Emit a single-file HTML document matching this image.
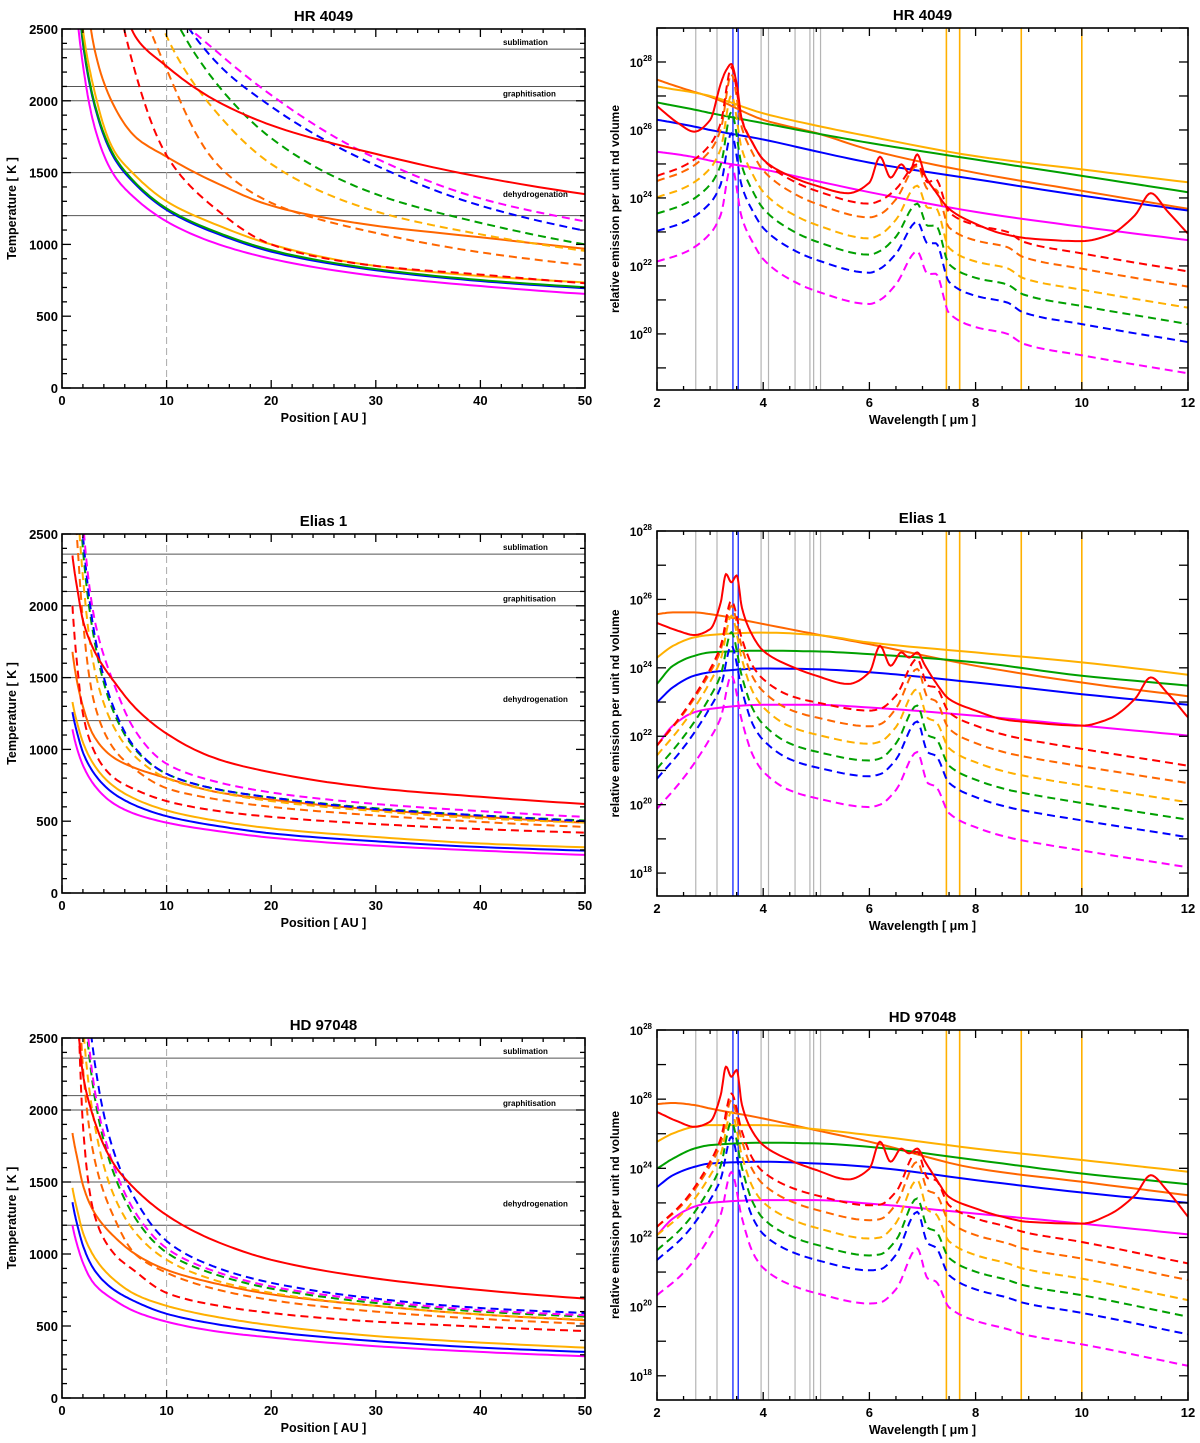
<!DOCTYPE html>
<html><head><meta charset="utf-8"><style>
html,body{margin:0;padding:0;background:#fff}
svg{display:block}
text{font-family:"Liberation Sans",sans-serif;font-weight:bold;fill:#000}
</style></head><body>
<svg id="fig" width="1200" height="1443" viewBox="0 0 1200 1443" xmlns="http://www.w3.org/2000/svg"></svg>
<script>
// ---------- Left panels: temperature vs position ----------
const PX=[1,1.5,2,3,5,7,10,15,20,30,40,50];
// HR 4049
const hr_mag_s=[3000,2550,2250,1850,1480,1320,1160,1000,900,780,710,655];
const hr_blu_s=[3200,2750,2400,2000,1600,1420,1240,1070,950,820,745,695];
const hr_grn_s=[3220,2770,2420,2015,1615,1430,1250,1080,960,828,752,702];
const hr_yel_s=[3400,2900,2500,2100,1650,1480,1300,1130,1000,850,780,735];
const hr_org_s=[4000,3400,3000,2400,1960,1750,1610,1420,1270,1130,1050,970];
const hr_red_s=[6000,5000,4400,3600,2900,2450,2240,1990,1830,1630,1470,1350];
const hr_red_d=[9000,7000,5800,4300,2850,2200,1620,1230,1000,850,790,730];
const hr_org_d=[12000,9000,7000,5000,3500,2800,2220,1545,1290,1080,945,855];
const hr_yel_d=[14000,10000,8000,5500,3900,3100,2450,1900,1560,1230,1070,955];
const hr_grn_d=[16000,12000,9000,6500,4300,3400,2700,2100,1740,1350,1150,1000];
const hr_blu_d=[18000,13000,10000,7000,5000,3700,2800,2250,1960,1550,1270,1095];
const hr_mag_d=[19000,14000,10500,7200,4800,3400,2700,2330,2040,1600,1320,1160];
// Elias 1
const el_mag_s=[1140,990,890,760,620,550,490,430,385,330,295,265];
const el_blu_s=[1260,1100,980,840,690,610,535,465,415,360,320,295];
const el_yel_s=[1330,1170,1050,900,740,655,575,500,450,390,345,318];
const el_org_s=[1680,1450,1300,1100,940,870,800,700,650,580,530,490];
const el_red_s=[2350,2100,1900,1700,1470,1290,1110,930,840,730,670,620];
const el_red_d=[2000,1550,1250,1000,800,720,640,570,530,480,445,420];
const el_org_d=[3000,2400,1900,1350,1000,860,730,650,600,540,495,460];
const el_yel_d=[3500,2700,2200,1600,1150,950,800,700,640,570,520,490];
const el_grn_d=[4000,3000,2400,1800,1250,1000,830,720,665,590,540,505];
const el_blu_d=[4200,3100,2500,1850,1280,1010,830,720,665,585,540,500];
const el_mag_d=[4500,3300,2600,1950,1450,1130,900,770,700,620,570,530];
// HD 97048
const hd_mag_s=[1200,1050,940,800,680,600,530,460,420,360,320,290];
const hd_blu_s=[1360,1190,1060,900,750,670,585,510,460,395,350,320];
const hd_yel_s=[1460,1290,1150,990,820,720,640,560,505,430,385,350];
const hd_org_s=[1840,1650,1480,1300,1120,1000,890,790,720,640,580,540];
const hd_red_s=[3000,2600,2250,1950,1620,1450,1270,1080,960,830,750,690];
const hd_red_d=[3800,2800,1900,1300,1000,880,730,640,590,530,495,465];
const hd_org_d=[4000,3000,2300,1700,1250,1000,870,750,680,600,550,515];
const hd_yel_d=[4500,3300,2600,1950,1400,1150,960,810,730,640,580,545];
const hd_grn_d=[5000,3700,2900,2150,1550,1250,1010,850,760,660,600,565];
const hd_mag_d=[5200,3800,3000,2200,1600,1290,1040,870,775,675,610,575];
const hd_blu_d=[5500,4000,3200,2400,1700,1380,1090,900,800,690,625,590];

// ---------- Right panels: log10 emission vs wavelength ----------
const SX=[2,2.3,2.7,3,4,5,6,8,10,12];
const GX=[2,2.5,3,3.2,3.4,3.6,3.8,4,4.5,5,6,6.2,6.5,6.9,7.1,7.25,7.5,8,8.6,8.9,10,12];
const RX=[2,2.4,2.7,3,3.2,3.3,3.4,3.5,3.6,3.8,4,4.5,5,5.6,6,6.2,6.4,6.6,6.75,6.9,7.05,7.25,7.5,8,8.5,9,10,10.5,11,11.3,11.6,12];
// HR 4049
const hrS_org=[27.48,27.32,27.12,26.98,26.30,25.91,25.42,24.74,24.21,23.68];
const hrS_yel=[27.28,27.2,27.1,27.0,26.49,26.13,25.81,25.23,24.84,24.46];
const hrS_grn=[26.81,26.72,26.6,26.5,26.2,25.9,25.62,25.13,24.65,24.17];
const hrS_blu=[26.3,26.22,26.1,26.0,25.72,25.37,25.04,24.55,24.07,23.63];
const hrS_mag=[25.36,25.3,25.2,25.1,24.84,24.5,24.17,23.59,23.15,22.76];
const hrD_red=[24.65,24.94,25.57,26.2,27.84,26.3,25.62,25.13,24.55,24.21,23.83,23.92,24.26,24.99,24.46,24.55,23.58,23.2,23.0,22.71,22.37,21.84];
const hrD_org=[24.50,24.78,25.39,26.01,27.64,26.05,25.32,24.81,24.20,23.83,23.43,23.52,23.96,24.94,24.26,24.25,23.13,22.75,22.55,22.26,21.92,21.39];
const hrD_yel=[24.02,24.29,24.87,25.45,27.02,25.42,24.70,24.18,23.57,23.21,22.81,22.92,23.36,24.36,23.71,23.70,22.53,22.13,21.93,21.64,21.30,20.77];
const hrD_grn=[23.54,23.81,24.39,24.97,26.53,24.93,24.21,23.69,23.08,22.72,22.33,22.44,22.86,23.83,23.18,23.19,22.05,21.65,21.45,21.16,20.82,20.29];
const hrD_blu=[23.03,23.28,23.85,24.40,25.90,24.33,23.62,23.12,22.53,22.18,21.80,21.92,22.36,23.30,22.66,22.67,21.53,21.12,20.92,20.63,20.29,19.76];
const hrD_mag=[22.13,22.38,22.95,23.50,24.98,23.40,22.70,22.20,21.61,21.26,20.88,21.00,21.46,22.43,21.76,21.77,20.61,20.20,20.00,19.71,19.37,18.84];
const hrR_red=[26.70,26.20,25.95,26.29,27.36,27.75,27.94,27.36,26.29,25.62,25.13,24.65,24.36,24.14,24.45,25.21,24.60,24.99,24.74,25.28,24.65,24.18,23.68,23.24,22.95,22.81,22.73,22.90,23.49,24.14,23.63,22.95];
// Elias 1
const elS_org=[25.57,25.62,25.62,25.57,25.28,24.98,24.69,24.06,23.57,23.17];
const elS_yel=[24.30,24.64,24.89,24.96,25.03,24.96,24.74,24.45,24.16,23.80];
const elS_grn=[23.53,24.06,24.35,24.45,24.50,24.48,24.40,24.16,23.77,23.48];
const elS_blu=[22.99,23.43,23.77,23.87,23.98,23.96,23.87,23.57,23.23,22.92];
const elS_mag=[21.73,22.31,22.70,22.80,22.92,22.92,22.84,22.60,22.31,22.02];
const elD_red=[21.73,22.70,23.96,24.64,25.96,24.84,24.06,23.67,23.19,22.99,22.75,22.80,23.19,24.26,23.48,23.43,22.70,22.31,22.02,21.92,21.63,21.14];
const elD_org=[21.73,22.66,23.87,24.52,25.81,24.59,23.74,23.31,22.78,22.55,22.29,22.35,22.81,23.97,23.13,23.03,22.22,21.80,21.51,21.41,21.12,20.63];
const elD_yel=[21.44,22.38,23.59,24.24,25.52,24.24,23.31,22.85,22.29,22.05,21.78,21.84,22.27,23.38,22.53,22.43,21.65,21.24,20.95,20.85,20.56,20.07];
const elD_grn=[21.05,21.98,23.16,23.79,25.04,23.74,22.81,22.35,21.79,21.55,21.29,21.35,21.79,22.90,22.03,21.93,21.14,20.73,20.44,20.34,20.05,19.56];
const elD_blu=[20.76,21.67,22.84,23.44,24.65,23.34,22.36,21.89,21.33,21.09,20.83,20.89,21.32,22.43,21.53,21.43,20.64,20.22,19.93,19.83,19.54,19.05];
const elD_mag=[19.88,20.78,21.94,22.54,23.77,22.44,21.46,20.97,20.42,20.19,19.93,20.00,20.43,21.54,20.63,20.53,19.75,19.34,19.05,18.95,18.66,18.17];
const elR_red=[25.31,25.08,24.96,25.13,25.91,26.74,26.50,26.70,25.75,24.94,24.50,24.06,23.77,23.53,23.87,24.64,24.06,24.45,24.30,24.45,24.06,23.57,23.09,22.75,22.50,22.41,22.31,22.50,23.09,23.72,23.28,22.55];
// HD 97048
const hdS_org=[25.86,25.89,25.83,25.73,25.44,25.10,24.77,24.00,23.61,23.22];
const hdS_yel=[24.77,25.01,25.20,25.25,25.25,25.13,24.96,24.57,24.24,23.90];
const hdS_grn=[23.99,24.28,24.57,24.67,24.74,24.72,24.62,24.24,23.85,23.54];
const hdS_blu=[23.46,23.80,24.04,24.14,24.19,24.14,24.04,23.66,23.30,23.00];
const hdS_mag=[22.07,22.55,22.89,23.00,23.08,23.08,22.98,22.69,22.40,22.09];
const hdD_red=[22.31,23.03,24.19,24.86,26.16,25.06,24.28,23.90,23.46,23.22,22.93,22.95,23.32,24.48,23.71,23.66,22.93,22.55,22.31,22.16,21.87,21.25];
const hdD_org=[22.31,22.98,24.08,24.71,25.97,24.79,23.95,23.54,23.06,22.80,22.50,22.53,22.96,24.19,23.36,23.26,22.47,22.07,21.83,21.68,21.39,20.77];
const hdD_yel=[22.07,22.73,23.79,24.40,25.63,24.36,23.46,23.02,22.54,22.28,21.97,22.00,22.42,23.66,22.79,22.68,21.89,21.49,21.25,21.10,20.81,20.19];
const hdD_grn=[21.63,22.33,23.44,24.08,25.34,24.01,23.03,22.55,22.05,21.79,21.48,21.51,21.92,23.13,22.28,22.18,21.41,21.01,20.77,20.62,20.33,19.71];
const hdD_blu=[21.35,22.03,23.09,23.69,24.91,23.56,22.58,22.10,21.61,21.35,21.05,21.08,21.50,22.74,21.83,21.71,20.91,20.50,20.26,20.11,19.82,19.20];
const hdD_mag=[20.33,20.98,22.04,22.66,23.89,22.56,21.58,21.12,20.64,20.39,20.09,20.12,20.50,21.68,20.81,20.73,19.98,19.59,19.35,19.20,18.91,18.29];
const hdR_red=[25.63,25.35,25.20,25.35,26.12,26.94,26.65,26.84,25.83,25.06,24.67,24.24,23.95,23.68,23.99,24.77,24.19,24.57,24.43,24.57,24.19,23.71,23.17,22.84,22.60,22.45,22.40,22.65,23.22,23.80,23.37,22.60];

// reference lines
const tempLines=[2360,2100,2000,1500,1200];
const grayLines=[2.73,3.13,3.96,4.10,4.60,4.88,4.95,5.08];
const blueLines=[3.43,3.53];
const goldLines=[7.45,7.70,8.86,10.0];

const C={red:'#ff0000',org:'#ff6600',yel:'#ffb000',grn:'#00a000',blu:'#0000ff',mag:'#ff00ff'};
const NS='http://www.w3.org/2000/svg';
const svg=document.getElementById('fig');
function mk(tag,attrs,parent){const e=document.createElementNS(NS,tag);for(const k in attrs)e.setAttribute(k,attrs[k]);(parent||svg).appendChild(e);return e;}

function mono(xs,ys,n){
  const m=xs.length,d=[],h=[],t=new Array(m);
  for(let i=0;i<m-1;i++){h[i]=xs[i+1]-xs[i];d[i]=(ys[i+1]-ys[i])/h[i];}
  t[0]=d[0];t[m-1]=d[m-2];
  for(let i=1;i<m-1;i++){
    if(d[i-1]*d[i]<=0)t[i]=0;else{const w1=2*h[i]+h[i-1],w2=h[i]+2*h[i-1];t[i]=(w1+w2)/(w1/d[i-1]+w2/d[i]);}
  }
  const out=[];
  for(let i=0;i<m-1;i++){
    for(let k=0;k<n;k++){
      const s=k/n,s2=s*s,s3=s2*s;
      const y=(2*s3-3*s2+1)*ys[i]+(s3-2*s2+s)*h[i]*t[i]+(-2*s3+3*s2)*ys[i+1]+(s3-s2)*h[i]*t[i+1];
      out.push([xs[i]+s*h[i],y]);
    }
  }
  out.push([xs[m-1],ys[m-1]]);
  return out;
}

let clipId=0;
function frame(g,x0,x1,y0,y1){mk('rect',{x:x0,y:y0,width:x1-x0,height:y1-y0,fill:'none',stroke:'#000','stroke-width':1.6},g);}

// ---- left panel ----
function leftPanel(name,title,y0,y1,series){
  const x0=62,x1=585;
  const g=mk('g',{});
  
  
  const X=r=>x0+r/50*(x1-x0), Y=T=>y1-T/2500*(y1-y0);
  const id='c'+(clipId++);
  const cp=mk('clipPath',{id:id},g);mk('rect',{x:x0,y:y0,width:x1-x0,height:y1-y0},cp);
  const t=mk('text',{x:(x0+x1)/2,y:y0-8,'text-anchor':'middle','font-size':15},g);t.textContent=title;
  
  tempLines.forEach(v=>{const l=mk('line',{x1:x0,x2:x1,y1:Y(v),y2:Y(v),stroke:'#555','stroke-width':1},g);
    });
  const labs=[['sublimation',Y(2360)-4],['graphitisation',Y(2050)+3],['dehydrogenation',Y(1350)+3]];
  labs.forEach(([s,y])=>{const e=mk('text',{x:503,y:y,'font-size':8,'font-weight':'normal'},g);e.textContent=s;
    });
  const vl=mk('line',{x1:X(10),x2:X(10),y1:y0,y2:y1,stroke:'#aaa','stroke-width':1,'stroke-dasharray':'7 4'},g);
  
  const cg=mk('g',{'clip-path':'url(#'+id+')'},g);
  series.forEach(s=>{
    const pts=mono(PX.map(Math.log),s.v.map(Math.log),12);
    const d=pts.map((p,i)=>(i?'L':'M')+X(Math.exp(p[0])).toFixed(1)+','+Y(Math.exp(p[1])).toFixed(1)).join('');
    const a={d:d,fill:'none',stroke:C[s.c],'stroke-width':2};
    if(s.dash)a['stroke-dasharray']='8 5';
    const p=mk('path',a,cg);
    
  });
  for(let v=0;v<=50;v+=2){const L=v%10===0?8:4;
    mk('line',{x1:X(v),x2:X(v),y1:y1,y2:y1-L,stroke:'#000','stroke-width':1.3},g);
    mk('line',{x1:X(v),x2:X(v),y1:y0,y2:y0+L,stroke:'#000','stroke-width':1.3},g);
    if(v%10===0){const e=mk('text',{x:X(v),y:y1+17,'text-anchor':'middle','font-size':13},g);e.textContent=v;
      }}
  for(let v=0;v<=2500;v+=100){const L=v%500===0?9:5;
    mk('line',{x1:x0,x2:x0+L,y1:Y(v),y2:Y(v),stroke:'#000','stroke-width':1.3},g);
    mk('line',{x1:x1,x2:x1-L,y1:Y(v),y2:Y(v),stroke:'#000','stroke-width':1.3},g);
    if(v%500===0){const e=mk('text',{x:x0-4,y:Y(v)+5,'text-anchor':'end','font-size':13},g);e.textContent=v;
      }}
  frame(g,x0,x1,y0,y1);
  const xt=mk('text',{x:(x0+x1)/2,y:y1+34,'text-anchor':'middle','font-size':12.5},g);xt.textContent='Position [ AU ]';
  
  const yt=mk('text',{x:0,y:0,'text-anchor':'middle','font-size':12.5,transform:'translate(16,'+((y0+y1)/2)+') rotate(-90)'},g);yt.textContent='Temperature [ K ]';
  
}

// ---- right panel ----
function rightPanel(name,title,y0,y1,lTop,lBot,labs,sol,das,red){
  const x0=657,x1=1188;
  const g=mk('g',{});
  
  
  const X=l=>x0+(l-2)/10*(x1-x0), Y=v=>y0+(lTop-v)/(lTop-lBot)*(y1-y0);
  const id='c'+(clipId++);
  const cp=mk('clipPath',{id:id},g);mk('rect',{x:x0,y:y0,width:x1-x0,height:y1-y0},cp);
  const t=mk('text',{x:(x0+x1)/2,y:y0-8,'text-anchor':'middle','font-size':15},g);t.textContent=title;
  
  const vline=(l,col,w,nm)=>{const e=mk('line',{x1:X(l),x2:X(l),y1:y0,y2:y1,stroke:col,'stroke-width':w},g);
    };
  grayLines.forEach(l=>vline(l,'#b4b4b4',1.2,'gray-band-line'));
  blueLines.forEach(l=>vline(l,'#2233ff',1.4,'blue-band-line'));
  goldLines.forEach(l=>vline(l,'#ffb000',1.6,'gold-band-line'));
  const cg=mk('g',{'clip-path':'url(#'+id+')'},g);
  const draw=(xs,vs,col,dash,nm)=>{
    const pts=mono(xs,vs,8);
    const d=pts.map((p,i)=>(i?'L':'M')+X(p[0]).toFixed(1)+','+Y(p[1]).toFixed(1)).join('');
    const a={d:d,fill:'none',stroke:C[col],'stroke-width':2};
    if(dash)a['stroke-dasharray']='8 5';
    const p=mk('path',a,cg);
  };
  sol.forEach(s=>draw(SX,s.v,s.c,false,s.n));
  das.forEach(s=>draw(GX,s.v,s.c,true,s.n));
  draw(RX,red,'red',false,'red-solid-spectrum');
  for(let v=2;v<=12.001;v+=0.5){const L=(Math.abs(v%2)<1e-6)?8:4;
    mk('line',{x1:X(v),x2:X(v),y1:y1,y2:y1-L,stroke:'#000','stroke-width':1.3},g);
    mk('line',{x1:X(v),x2:X(v),y1:y0,y2:y0+L,stroke:'#000','stroke-width':1.3},g);
    if(Math.abs(v%2)<1e-6){const e=mk('text',{x:X(v),y:y1+17,'text-anchor':'middle','font-size':13},g);e.textContent=v;
      }}
  for(let e=Math.ceil(lBot);e<=Math.floor(lTop);e++){
    mk('line',{x1:x0,x2:x0+9,y1:Y(e),y2:Y(e),stroke:'#000','stroke-width':1.3},g);
    mk('line',{x1:x1,x2:x1-9,y1:Y(e),y2:Y(e),stroke:'#000','stroke-width':1.3},g);
  }
  labs.forEach(e=>{const tx=mk('text',{x:x0-5,y:Y(e)+5,'text-anchor':'end','font-size':12},g);
    
    const a=mk('tspan',{},tx);a.textContent='10';
    const b=mk('tspan',{'font-size':8,dy:-6},tx);b.textContent=e;});
  frame(g,x0,x1,y0,y1);
  const xt=mk('text',{x:(x0+x1)/2,y:y1+34,'text-anchor':'middle','font-size':12.5},g);xt.textContent='Wavelength [ \u03bcm ]';
  
  const yt=mk('text',{x:0,y:0,'text-anchor':'middle','font-size':12,transform:'translate(619,'+((y0+y1)/2)+') rotate(-90)'},g);yt.textContent='relative emission per unit nd volume';
  
}

function L(pre){return [
 {n:'magenta-solid-curve',c:'mag',v:pre.mag_s},{n:'blue-solid-curve',c:'blu',v:pre.blu_s},
 ...(pre.grn_s?[{n:'green-solid-curve',c:'grn',v:pre.grn_s}]:[]),
 {n:'gold-solid-curve',c:'yel',v:pre.yel_s},{n:'orange-solid-curve',c:'org',v:pre.org_s},
 {n:'red-dashed-curve',c:'red',v:pre.red_d,dash:1},{n:'orange-dashed-curve',c:'org',v:pre.org_d,dash:1},
 {n:'gold-dashed-curve',c:'yel',v:pre.yel_d,dash:1},{n:'green-dashed-curve',c:'grn',v:pre.grn_d,dash:1},
 {n:'blue-dashed-curve',c:'blu',v:pre.blu_d,dash:1},{n:'magenta-dashed-curve',c:'mag',v:pre.mag_d,dash:1},
 {n:'red-solid-curve',c:'red',v:pre.red_s}];}

leftPanel('hr4049-temperature-panel','HR 4049',29,388,L({mag_s:hr_mag_s,blu_s:hr_blu_s,grn_s:hr_grn_s,yel_s:hr_yel_s,org_s:hr_org_s,red_s:hr_red_s,red_d:hr_red_d,org_d:hr_org_d,yel_d:hr_yel_d,grn_d:hr_grn_d,blu_d:hr_blu_d,mag_d:hr_mag_d}));
leftPanel('elias1-temperature-panel','Elias 1',534,893,L({mag_s:el_mag_s,blu_s:el_blu_s,yel_s:el_yel_s,org_s:el_org_s,red_s:el_red_s,red_d:el_red_d,org_d:el_org_d,yel_d:el_yel_d,grn_d:el_grn_d,blu_d:el_blu_d,mag_d:el_mag_d}));
leftPanel('hd97048-temperature-panel','HD 97048',1038,1398,L({mag_s:hd_mag_s,blu_s:hd_blu_s,yel_s:hd_yel_s,org_s:hd_org_s,red_s:hd_red_s,red_d:hd_red_d,org_d:hd_org_d,yel_d:hd_yel_d,grn_d:hd_grn_d,blu_d:hd_blu_d,mag_d:hd_mag_d}));

function S(o,y,g,b,m){return [{n:'orange-solid-spectrum',c:'org',v:o},{n:'gold-solid-spectrum',c:'yel',v:y},{n:'green-solid-spectrum',c:'grn',v:g},{n:'blue-solid-spectrum',c:'blu',v:b},{n:'magenta-solid-spectrum',c:'mag',v:m}];}
function D(r,o,y,g,b,m){return [{n:'magenta-dashed-spectrum',c:'mag',v:m},{n:'blue-dashed-spectrum',c:'blu',v:b},{n:'green-dashed-spectrum',c:'grn',v:g},{n:'gold-dashed-spectrum',c:'yel',v:y},{n:'orange-dashed-spectrum',c:'org',v:o},{n:'red-dashed-spectrum',c:'red',v:r}];}

rightPanel('hr4049-spectrum-panel','HR 4049',28,390,29,18.35,[28,26,24,22,20],S(hrS_org,hrS_yel,hrS_grn,hrS_blu,hrS_mag),D(hrD_red,hrD_org,hrD_yel,hrD_grn,hrD_blu,hrD_mag),hrR_red);
rightPanel('elias1-spectrum-panel','Elias 1',531,896,28,17.33,[28,26,24,22,20,18],S(elS_org,elS_yel,elS_grn,elS_blu,elS_mag),D(elD_red,elD_org,elD_yel,elD_grn,elD_blu,elD_mag),elR_red);
rightPanel('hd97048-spectrum-panel','HD 97048',1030,1400,28,17.3,[28,26,24,22,20,18],S(hdS_org,hdS_yel,hdS_grn,hdS_blu,hdS_mag),D(hdD_red,hdD_org,hdD_yel,hdD_grn,hdD_blu,hdD_mag),hdR_red);
</script>
</body></html>
